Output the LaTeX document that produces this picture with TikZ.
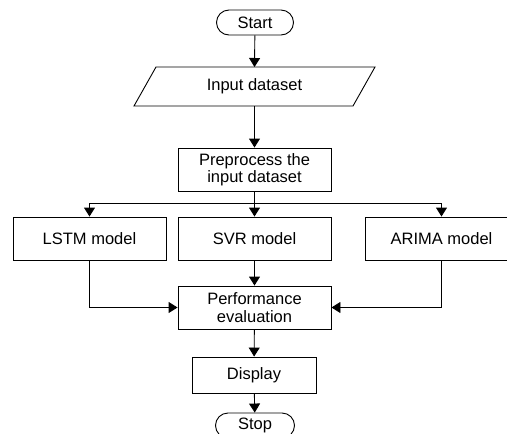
\documentclass[tikz,border=0pt]{standalone}
\usepackage{fontspec}
\setmainfont{Liberation Sans}
\usetikzlibrary{arrows.meta}
\begin{document}
\begin{tikzpicture}[x=1pt,y=-1pt,
  every node/.style={font=\fontsize{16.5}{17.5}\selectfont, align=center, inner sep=0pt},
  box/.style={draw, line width=0.9pt, minimum width=153pt, minimum height=43pt},
  term/.style={draw, line width=0.9pt, rounded corners=12.5pt, minimum width=77pt, minimum height=25pt},
  arr/.style={line width=0.9pt, -{Triangle[length=9pt,width=11pt]}},
  ln/.style={line width=0.9pt}]
\clip (0,0) rectangle (507,434);
\useasboundingbox (0,0) rectangle (507,434);
\node[term] (start) at (255,22.5) {Start};
\node[minimum width=200pt, minimum height=39pt] (in) at (254.5,86.5) {Input dataset};
\draw[ln] (156,67) -- (375,67) -- (353,106) -- (134,106) -- cycle;
\node[box] (prep) at (254.5,169.5) {Preprocess the\\input dataset};
\node[box] (lstm) at (89.5,238.5) {LSTM model};
\node[box] (svr) at (254.5,238.5) {SVR model};
\node[box] (arima) at (441.5,238.5) {ARIMA model};
\node[box] (perf) at (254.5,307.5) {Performance\\evaluation};
\node[box, minimum width=124pt, minimum height=36pt] (disp) at (254,375) {Display};
\node[term, minimum width=79pt] (stop) at (255,425.5) {Stop};
\coordinate (br) at (254.5,203);
\coordinate (lc) at (89.5,307.5);
\coordinate (rc) at (441.5,307.5);
\draw[arr] (start) -- (in.north |- 0,67);
\draw[arr] (in.south |- 0,106) -- (prep);
\draw[arr] (prep) -- (svr);
\draw[arr] (br) -| (lstm.north);
\draw[arr] (br) -| (arima.north);
\draw[ln] (lstm.south) -- (lc);
\draw[arr] (lc) -- (perf.west);
\draw[ln] (arima.south) -- (rc);
\draw[arr] (rc) -- (perf.east);
\draw[arr] (svr) -- (perf);
\draw[arr] (perf) -- (disp);
\draw[arr] (disp) -- (stop);
\end{tikzpicture}
\end{document}
